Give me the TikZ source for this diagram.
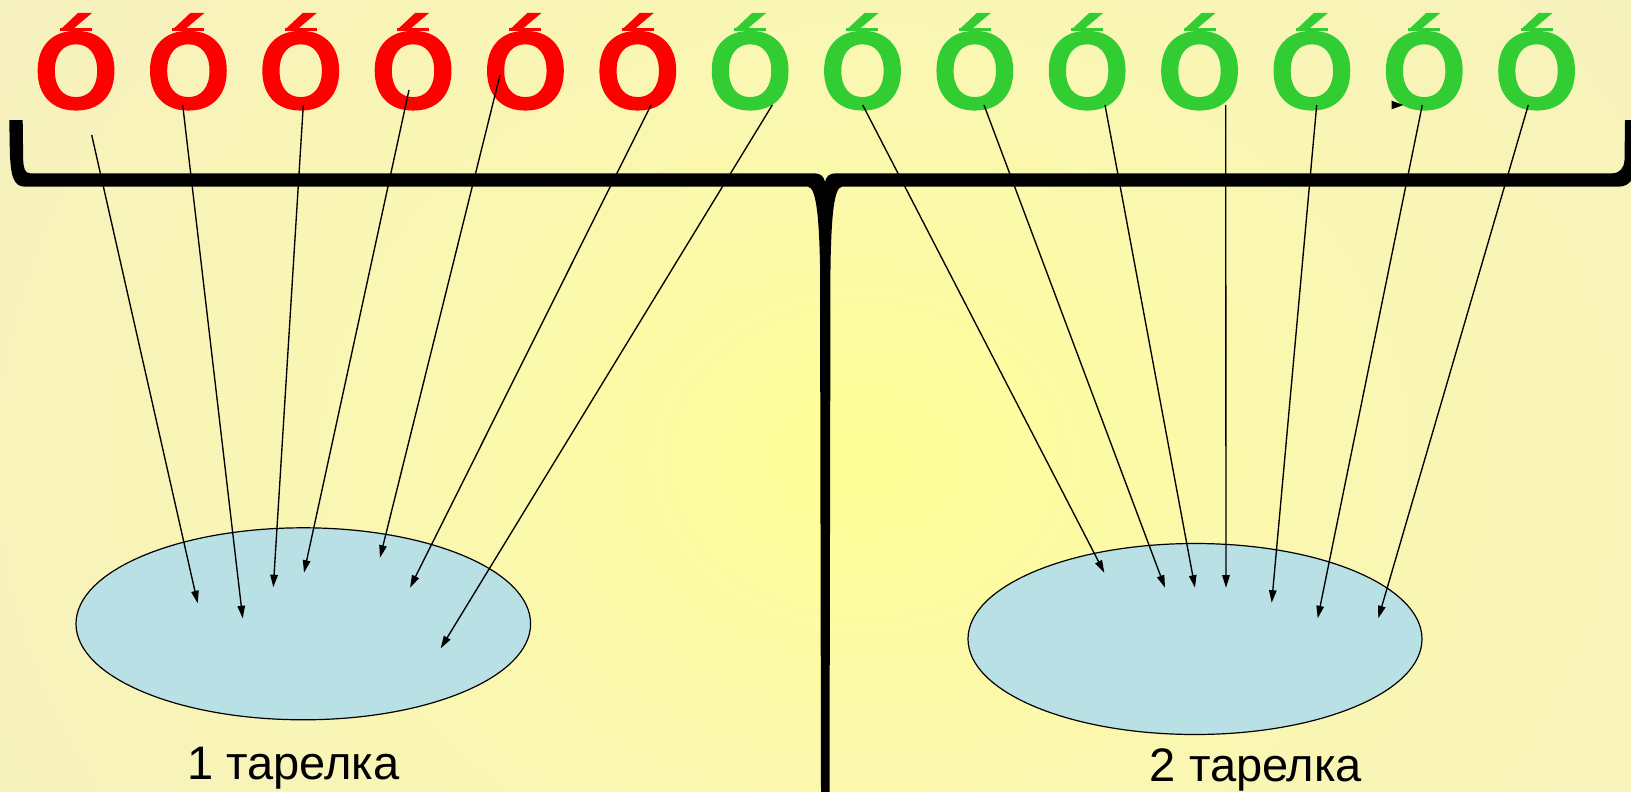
\documentclass[tikz,border=0pt]{standalone}
\usepackage{fontspec}
\setmainfont{Liberation Sans}
\newfontfamily\letterfont{DejaVu Sans}[FakeStretch=1.1,FakeBold=2.5]
\usetikzlibrary{arrows.meta,shapes.geometric}
\definecolor{bgA}{RGB}{255,255,150}
\definecolor{bgB}{RGB}{253,252,160}
\definecolor{bgC}{RGB}{250,247,178}
\definecolor{bgD}{RGB}{246,241,190}
\definecolor{bgE}{RGB}{240,234,200}
\definecolor{bgF}{RGB}{232,224,198}
\definecolor{bgG}{RGB}{226,216,190}
\definecolor{plate}{RGB}{185,224,229}
\definecolor{ored}{RGB}{255,0,0}
\definecolor{ogreen}{RGB}{50,205,50}
\pgfdeclareradialshading{bgshade}{\pgfpointorigin}{color(0bp)=(bgA); color(4bp)=(bgB); color(12bp)=(bgC); color(25bp)=(bgD); color(36bp)=(bgE); color(46bp)=(bgF); color(50bp)=(bgG)}
\tikzset{
  letter/.style={anchor=base, inner sep=0pt, font=\letterfont\fontsize{133}{133}\selectfont},
  plateshape/.style={ellipse, draw=black, line width=1.2pt, fill=plate, inner sep=0pt},
  platelabel/.style={anchor=base, inner sep=0pt, font=\fontsize{47}{47}\selectfont},
  ray/.style={line width=1.35pt, -{Triangle[length=12.5pt,width=7.5pt]}}
}
\begin{document}
\begin{tikzpicture}[x=1pt,y=-1pt]
\useasboundingbox (0,0) rectangle (1631,792);
\begin{scope}
\clip (0,0) rectangle (1631,792);
\shade[shading=bgshade] (-135,-340) rectangle (1865,1260);
\end{scope}
% plates
\node[plateshape, minimum width=454.6pt, minimum height=192pt] (p1) at (303.3,623.8) {};
\node[plateshape, minimum width=454pt, minimum height=191pt] (p2) at (1195,639) {};
\node[platelabel] (l1) at (293.5,779) {1 тарелка};
\node[platelabel] (l2) at (1256,781.5) {2 тарелка};
% beam (brace)
\fill[black] (9.3,120) -- (9.8,150) .. controls (10.5,175) and (13,186.7) .. (25,186.7)
  -- (808,186.7) .. controls (816,187.5) and (819,215) .. (820,265) -- (821,792)
  -- (829.5,792) -- (830.5,265) .. controls (831.5,215) and (834,187.5) .. (842,186.7)
  -- (1618,186.7) .. controls (1630,186.7) and (1636,178) .. (1637,160) -- (1638,120)
  -- (1625,120) -- (1624.5,160) .. controls (1624,168) and (1620,173.3) .. (1612,173.3)
  -- (836,173.3) .. controls (830,173.3) and (826,176) .. (825,182)
  .. controls (824,176) and (820,173.3) .. (814,173.3)
  -- (30,173.3) .. controls (25,173.3) and (23.5,168) .. (23.2,160) -- (22.7,120) -- cycle;
% letters with their accents
\foreach \i/\c in {1/ored,2/ored,3/ored,4/ored,5/ored,6/ored,7/ogreen,8/ogreen,9/ogreen,10/ogreen,11/ogreen,12/ogreen,13/ogreen,14/ogreen}{
  \node[letter, text=\c] (o\i) at ({76+(\i-1)*112.35},107) {o};
  \begin{scope}[shift={(o\i.base)}]
    \fill[\c] (2,-94) -- (16,-94) -- (-3,-78) -- (-15,-78) -- cycle;
    \fill[\c] (-16,-79) rectangle (16,-76);
  \end{scope}
}
% ray start and end points
\coordinate (s1) at (91.7,135);   \coordinate (e1) at (197.7,603.3);
\coordinate (s2) at (182.7,105);  \coordinate (e2) at (242.7,618.3);
\coordinate (s3) at (303.3,105);  \coordinate (e3) at (273.3,587.3);
\coordinate (s4) at (409,90);     \coordinate (e4) at (304,572.7);
\coordinate (s5) at (500,75);     \coordinate (e5) at (380,557.7);
\coordinate (s6) at (651,105);    \coordinate (e6) at (410,587.7);
\coordinate (s7) at (772.3,105);  \coordinate (e7) at (440.7,648.3);
\coordinate (s8) at (862.7,105);  \coordinate (e8) at (1104.3,572.7);
\coordinate (s9) at (984,105);    \coordinate (e9) at (1165,587.7);
\coordinate (s10) at (1105,105);  \coordinate (e10) at (1195,587.7);
\coordinate (s11) at (1225.7,105);\coordinate (e11) at (1226,587.7);
\coordinate (s12) at (1316.7,105);\coordinate (e12) at (1271.7,602.7);
\coordinate (s13) at (1422.3,105);\coordinate (e13) at (1317.7,618.3);
\coordinate (s14) at (1528.3,105);\coordinate (e14) at (1378.3,618.3);
\foreach \i in {1,...,14}{
  \draw[ray] (s\i) -- (e\i);
}
% stray arrowhead
\fill[black] (1391.7,100.7) -- (1403.3,105) -- (1391.7,109.3) -- cycle;
\end{tikzpicture}
\end{document}
